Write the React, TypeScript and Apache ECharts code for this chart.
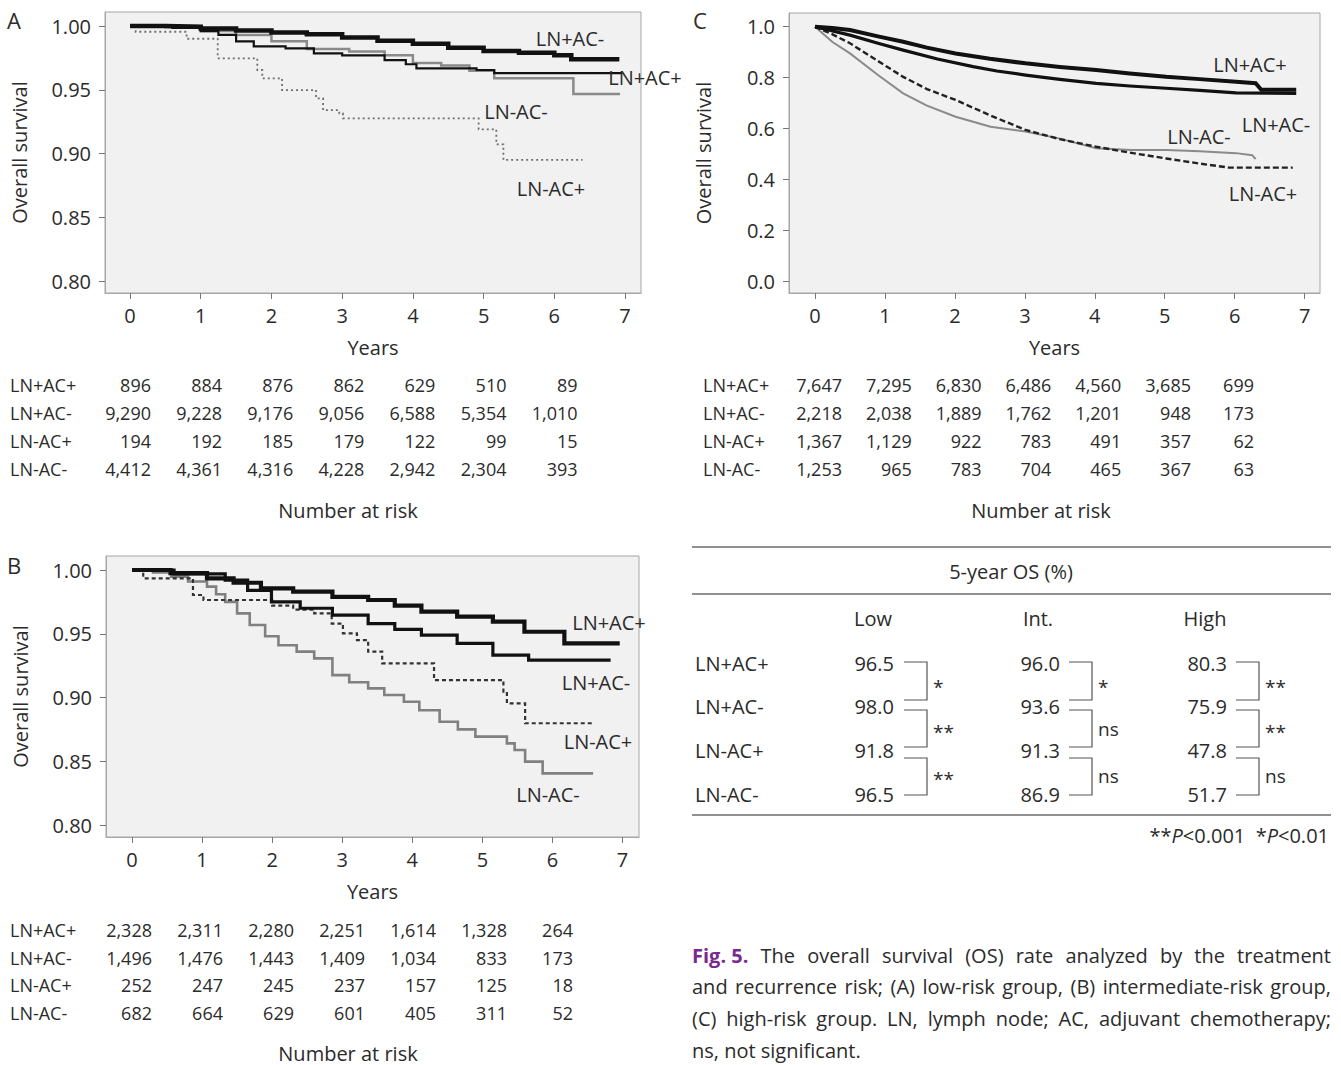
import React, { useEffect, useRef } from "react";
import * as echarts from "echarts";

const W = 1341;
const H = 1065;
const FONT = "'Open Sans', 'Noto Sans', sans-serif";
const TXT = "#2b2b2b";

// ---------- data ----------
const X_TICKS = [0, 1, 2, 3, 4, 5, 6, 7];
const Y_TICKS_AB = [0.8, 0.85, 0.9, 0.95, 1.0];
const Y_TICKS_C = [0, 0.2, 0.4, 0.6, 0.8, 1.0];
const GROUPS = ["LN+AC+", "LN+AC-", "LN-AC+", "LN-AC-"];

// Panel A (low risk) — [years, survival]
const A_LNpACp: [number, number][] = [[0, 1], [0.6, 0.9985], [1.0, 0.996], [1.25, 0.993], [1.5, 0.988], [1.75, 0.984], [2.2, 0.9825], [2.6, 0.9786], [3.0, 0.977], [3.6, 0.9733], [3.9, 0.97], [4.05, 0.9668], [4.9, 0.9655], [5.15, 0.963], [6.95, 0.963]];
const A_LNpACm: [number, number][] = [[0, 1], [0.5, 0.9995], [1, 0.998], [1.5, 0.9965], [2, 0.995], [2.5, 0.9935], [3, 0.991], [3.5, 0.9885], [4, 0.986], [4.5, 0.983], [5, 0.9805], [5.5, 0.979], [6, 0.977], [6.24, 0.974], [6.92, 0.974]];
const A_LNmACp: [number, number][] = [[0, 1], [0.08, 0.9955], [0.8, 0.99], [1.24, 0.9747], [1.8, 0.9655], [1.87, 0.959], [2.15, 0.9498], [2.63, 0.9433], [2.73, 0.934], [2.96, 0.9315], [3.01, 0.9276], [4.93, 0.919], [5.18, 0.9072], [5.28, 0.895], [6.4, 0.895]];
const A_LNmACm: [number, number][] = [[0, 1], [0.5, 0.999], [1, 0.996], [1.5, 0.993], [2, 0.988], [2.5, 0.982], [3.1, 0.98], [3.6, 0.977], [4.0, 0.971], [4.4, 0.969], [4.8, 0.965], [5.15, 0.959], [6.27, 0.9467], [6.93, 0.9467]];

// Panel B (intermediate risk)
const B_LNpACp: [number, number][] = [[0, 1], [0.55, 0.9975], [1.07, 0.9935], [1.45, 0.99], [1.84, 0.9856], [2.3, 0.983], [2.86, 0.979], [3.37, 0.9765], [3.75, 0.972], [4.13, 0.9673], [4.64, 0.9634], [5.15, 0.9595], [5.6, 0.9516], [6.17, 0.9425], [6.96, 0.9425]];
const B_LNpACm: [number, number][] = [[0, 1], [0.6, 0.997], [1.33, 0.992], [1.65, 0.984], [1.99, 0.975], [2.4, 0.97], [2.86, 0.9647], [3.37, 0.958], [3.75, 0.9535], [4.13, 0.949], [4.64, 0.9425], [5.15, 0.9333], [5.66, 0.9294], [6.83, 0.9294]];
const B_LNmACp: [number, number][] = [[0, 1], [0.16, 0.9935], [0.87, 0.9804], [1.02, 0.9765], [2.0, 0.972], [2.3, 0.969], [2.6, 0.966], [2.85, 0.958], [3.01, 0.9503], [3.21, 0.945], [3.37, 0.936], [3.57, 0.9268], [4.31, 0.9137], [5.3, 0.9046], [5.35, 0.8954], [5.61, 0.8798], [6.6, 0.8798]];
const B_LNmACm: [number, number][] = [[0, 1], [0.3, 0.998], [0.56, 0.9948], [0.8, 0.991], [1.07, 0.987], [1.2, 0.981], [1.33, 0.975], [1.5, 0.966], [1.68, 0.9569], [1.9, 0.948], [2.09, 0.941], [2.35, 0.936], [2.6, 0.9307], [2.86, 0.9176], [3.1, 0.912], [3.37, 0.9072], [3.6, 0.902], [3.88, 0.8967], [4.1, 0.89], [4.39, 0.881], [4.65, 0.875], [4.9, 0.8693], [5.35, 0.864], [5.46, 0.8588], [5.61, 0.8497], [5.86, 0.8405], [6.58, 0.8405]];

// Panel C (high risk)
const C_LNpACp: [number, number][] = [[0, 1], [0.25, 0.995], [0.5, 0.987], [0.9, 0.962], [1.26, 0.941], [1.6, 0.918], [2.01, 0.895], [2.5, 0.874], [3.01, 0.856], [3.5, 0.842], [4.02, 0.83], [4.5, 0.816], [5.02, 0.803], [5.5, 0.794], [6.02, 0.784], [6.3, 0.778], [6.38, 0.752], [6.88, 0.752]];
const C_LNpACm: [number, number][] = [[0, 1], [0.5, 0.967], [0.9, 0.935], [1.26, 0.908], [1.75, 0.873], [2.26, 0.843], [2.6, 0.826], [3.01, 0.81], [3.5, 0.793], [4.02, 0.777], [4.5, 0.767], [5.02, 0.758], [5.5, 0.75], [6.02, 0.74], [6.88, 0.738]];
const C_LNmACp: [number, number][] = [[0, 1], [0.25, 0.97], [0.5, 0.935], [0.9, 0.865], [1.26, 0.803], [1.6, 0.755], [2.01, 0.712], [2.5, 0.652], [3.01, 0.594], [3.5, 0.558], [4.02, 0.528], [4.5, 0.505], [5.02, 0.482], [5.5, 0.462], [5.92, 0.446], [6.83, 0.446]];
const C_LNmACm: [number, number][] = [[0, 1], [0.25, 0.94], [0.5, 0.895], [0.9, 0.81], [1.26, 0.738], [1.6, 0.69], [2.01, 0.646], [2.51, 0.607], [3.01, 0.588], [3.5, 0.56], [4.02, 0.522], [4.52, 0.515], [5.02, 0.515], [5.5, 0.51], [6.02, 0.503], [6.25, 0.495], [6.3, 0.48]];

// Number at risk
const A_RISK = [
  [896, 884, 876, 862, 629, 510, 89],
  [9290, 9228, 9176, 9056, 6588, 5354, 1010],
  [194, 192, 185, 179, 122, 99, 15],
  [4412, 4361, 4316, 4228, 2942, 2304, 393],
];
const B_RISK = [
  [2328, 2311, 2280, 2251, 1614, 1328, 264],
  [1496, 1476, 1443, 1409, 1034, 833, 173],
  [252, 247, 245, 237, 157, 125, 18],
  [682, 664, 629, 601, 405, 311, 52],
];
const C_RISK = [
  [7647, 7295, 6830, 6486, 4560, 3685, 699],
  [2218, 2038, 1889, 1762, 1201, 948, 173],
  [1367, 1129, 922, 783, 491, 357, 62],
  [1253, 965, 783, 704, 465, 367, 63],
];

// 5-year OS table
const OS_LOW = [96.5, 98.0, 91.8, 96.5];
const OS_INT = [96.0, 93.6, 91.3, 86.9];
const OS_HIGH = [80.3, 75.9, 47.8, 51.7];
const SIG_LOW = ["*", "**", "**"];
const SIG_INT = ["*", "ns", "ns"];
const SIG_HIGH = ["**", "**", "ns"];
const OS_HEADERS = ["Low", "Int.", "High"];

const CAPTION_LINES = [
  "The overall survival (OS) rate analyzed by the treatment",
  "and recurrence risk; (A) low-risk group, (B) intermediate-risk group,",
  "(C) high-risk group. LN, lymph node; AC, adjuvant chemotherapy;",
  "ns, not significant.",
];

// ---------- helpers ----------
function txt(x: number, y: number, text: string, o: any = {}) {
  return {
    type: "text",
    x,
    y,
    silent: true,
    z: 100,
    style: {
      text,
      fill: o.fill || TXT,
      fontSize: o.size || 20,
      fontFamily: FONT,
      fontWeight: o.weight || "normal",
      fontStyle: o.style || "normal",
      textAlign: o.align || "left",
      textVerticalAlign: "middle",
    },
  };
}
function hline(x1: number, x2: number, y: number, color = "#333", w = 1) {
  return { type: "line", silent: true, shape: { x1, y1: y, x2, y2: y }, style: { stroke: color, lineWidth: w } };
}

const measureCtx = (typeof document !== "undefined" ? document.createElement("canvas").getContext("2d") : null) as CanvasRenderingContext2D | null;
function measure(text: string, size: number, weight = "normal") {
  if (!measureCtx) return text.length * size * 0.5;
  measureCtx.font = `${weight} ${size}px ${FONT}`;
  return measureCtx.measureText(text).width;
}

function justifiedLine(words: { t: string; w?: string; c?: string }[], x1: number, x2: number, y: number, size: number, justify: boolean) {
  const widths = words.map((wd) => measure(wd.t, size, wd.w || "normal"));
  const total = widths.reduce((a, b) => a + b, 0);
  const space = measure(" ", size);
  const gap = justify && words.length > 1 ? (x2 - x1 - total) / (words.length - 1) : space;
  const out: any[] = [];
  let x = x1;
  words.forEach((wd, i) => {
    out.push(txt(x, y, wd.t, { size, weight: wd.w, fill: wd.c }));
    x += widths[i] + gap;
  });
  return out;
}

function grid(left: number, top: number, width: number, height: number) {
  return { left, top, width, height, show: true, backgroundColor: "#f1f1f1", borderColor: "#a6a6a6", borderWidth: 1, outerBoundsMode: "none", containLabel: false };
}

function xAxis(gridIndex: number, min: number, max: number) {
  return {
    type: "value",
    gridIndex,
    min,
    max,
    axisLine: { show: true, onZero: false, lineStyle: { color: "#a6a6a6" } },
    axisTick: { show: true, customValues: X_TICKS, length: 6, lineStyle: { color: "#777" } },
    axisLabel: { show: true, customValues: X_TICKS, margin: 12, fontSize: 20, color: TXT, fontFamily: FONT },
    splitLine: { show: false },
    name: "Years",
    nameLocation: "middle",
    nameGap: 44,
    nameTextStyle: { fontSize: 20, color: TXT, fontFamily: FONT },
  };
}
function yAxis(gridIndex: number, min: number, max: number, ticks: number[], digits: number) {
  return {
    type: "value",
    gridIndex,
    min,
    max,
    axisLine: { show: true, onZero: false, lineStyle: { color: "#a6a6a6" } },
    axisTick: { show: true, customValues: ticks, length: 6, lineStyle: { color: "#777" } },
    axisLabel: { show: true, customValues: ticks, margin: 14, fontSize: 20, color: TXT, fontFamily: FONT, formatter: (v: number) => v.toFixed(digits) },
    splitLine: { show: false },
    name: "Overall survival",
    nameLocation: "middle",
    nameGap: 76,
    nameRotate: 90,
    nameTextStyle: { fontSize: 20, color: TXT, fontFamily: FONT },
  };
}
function km(idx: number, data: [number, number][], color: string, width: number, type: any = "solid", step: any = "end") {
  return {
    type: "line",
    xAxisIndex: idx,
    yAxisIndex: idx,
    data,
    step,
    showSymbol: false,
    silent: true,
    lineStyle: { color, width, type, cap: "butt", join: "miter" },
  };
}

function riskTable(rows: number[][], labelX: number, firstRight: number, colStep: number, y0: number, rowStep: number, lastRight?: number) {
  const out: any[] = [];
  rows.forEach((row, r) => {
    const y = y0 + r * rowStep;
    out.push(txt(labelX, y, GROUPS[r], { size: 18 }));
    row.forEach((v, c) => {
      const x = c === row.length - 1 && lastRight ? lastRight : firstRight + c * colStep;
      out.push(txt(x, y, v.toLocaleString("en-US"), { size: 18, align: "right" }));
    });
  });
  return out;
}

function buildOption() {
  const g: any[] = [];
  // panel letters
  g.push(txt(7, 20, "A", { size: 22 }));
  g.push(txt(7, 565, "B", { size: 22 }));
  g.push(txt(693, 20, "C", { size: 22 }));
  // in-plot labels
  [["LN+AC-", 570, 38], ["LN+AC+", 645, 77], ["LN-AC-", 516, 111], ["LN-AC+", 551, 188]].forEach((l: any) => g.push(txt(l[1], l[2], l[0], { align: "center" })));
  [["LN+AC+", 609, 622], ["LN+AC-", 596, 682], ["LN-AC+", 598, 741], ["LN-AC-", 548, 794]].forEach((l: any) => g.push(txt(l[1], l[2], l[0], { align: "center" })));
  [["LN+AC+", 1250, 64], ["LN+AC-", 1276, 124], ["LN-AC-", 1199, 136], ["LN-AC+", 1263, 193]].forEach((l: any) => g.push(txt(l[1], l[2], l[0], { align: "center" })));

  // number at risk tables
  g.push(...riskTable(A_RISK, 10, 151, 71.1, 385, 28));
  g.push(txt(348, 510, "Number at risk", { align: "center" }));
  g.push(...riskTable(B_RISK, 10, 152, 71, 930, 27.7, 573));
  g.push(txt(348, 1053, "Number at risk", { align: "center" }));
  g.push(...riskTable(C_RISK, 703, 842, 69.8, 385, 28, 1254));
  g.push(txt(1041, 510, "Number at risk", { align: "center" }));

  // 5-year OS table
  g.push(hline(692, 1331, 547, "#222", 1.2));
  g.push(txt(1011, 571, "5-year OS (%)", { align: "center" }));
  g.push(hline(692, 1331, 594, "#222", 1.2));
  const headX = [873, 1038, 1205];
  OS_HEADERS.forEach((h, i) => g.push(txt(headX[i], 618, h, { align: "center" })));
  const rowY = [663, 706, 750, 794];
  GROUPS.forEach((gname, r) => g.push(txt(695, rowY[r], gname)));
  const valRight = [894, 1060, 1227];
  const stubX = [[904, 927], [1069, 1092], [1236, 1259]];
  const cols = [OS_LOW, OS_INT, OS_HIGH];
  const sigs = [SIG_LOW, SIG_INT, SIG_HIGH];
  const brackets = [[662, 700], [710, 747], [758, 795]];
  const sigY = [685, 730, 777];
  cols.forEach((col, c) => {
    col.forEach((v, r) => g.push(txt(valRight[c], rowY[r], v.toFixed(1), { align: "right" })));
    brackets.forEach((b, k) => {
      g.push({
        type: "polyline",
        silent: true,
        shape: { points: [[stubX[c][0], b[0]], [stubX[c][1], b[0]], [stubX[c][1], b[1]], [stubX[c][0], b[1]]] },
        style: { stroke: "#555", lineWidth: 1.2, fill: null },
      });
      const s = sigs[c][k];
      const isStar = s.indexOf("*") >= 0;
      g.push(txt(stubX[c][1] + 6, sigY[k] + (isStar ? 2 : -1), s, { size: 19 }));
    });
  });
  g.push(hline(692, 1331, 815, "#222", 1.2));
  g.push({
    type: "text",
    x: 1329,
    y: 835,
    silent: true,
    style: {
      text: "{n|**}{i|P}{n|<0.001  *}{i|P}{n|<0.01}",
      textAlign: "right",
      textVerticalAlign: "middle",
      fill: TXT,
      fontSize: 20,
      fontFamily: FONT,
      rich: {
        n: { fontSize: 20, fontFamily: FONT, fill: TXT },
        i: { fontSize: 20, fontFamily: FONT, fill: TXT, fontStyle: "italic" },
      },
    },
  });

  // caption (justified)
  const capSize = 20;
  const capY = [955, 986, 1018, 1050];
  const purple = "#7a2a8f";
  const first = [{ t: "Fig. 5.", w: "bold", c: purple }, ...CAPTION_LINES[0].split(" ").map((t) => ({ t }))];
  g.push(...justifiedLine(first, 692, 1331, capY[0], capSize, true));
  for (let i = 1; i < CAPTION_LINES.length; i++) {
    const words = CAPTION_LINES[i].split(" ").map((t) => ({ t }));
    g.push(...justifiedLine(words, 692, 1331, capY[i], capSize, i < CAPTION_LINES.length - 1));
  }

  return {
    animation: false,
    backgroundColor: "#ffffff",
    textStyle: { fontFamily: FONT },
    grid: [grid(105, 12, 536, 281), grid(106, 556, 533, 281), grid(789, 13, 531, 280)],
    xAxis: [xAxis(0, -0.354, 7.226), xAxis(1, -0.371, 7.235), xAxis(2, -0.372, 7.22)],
    yAxis: [yAxis(0, 0.7906, 1.011, Y_TICKS_AB, 2), yAxis(1, 0.7906, 1.011, Y_TICKS_AB, 2), yAxis(2, -0.047, 1.054, Y_TICKS_C, 1)],
    series: [
      km(0, A_LNmACm, "#8a8a8a", 2.5),
      km(0, A_LNmACp, "#6f6f6f", 1.8, [2, 3]),
      km(0, A_LNpACp, "#111", 2.2),
      km(0, A_LNpACm, "#111", 4.5),
      km(1, B_LNmACm, "#808080", 2.6),
      km(1, B_LNmACp, "#333", 2.2, [4, 3]),
      km(1, B_LNpACm, "#111", 3.2),
      km(1, B_LNpACp, "#111", 4.2),
      km(2, C_LNmACm, "#8a8a8a", 2, "solid", false),
      km(2, C_LNmACp, "#222", 2.4, [6, 3], false),
      km(2, C_LNpACm, "#111", 3.2, "solid", false),
      km(2, C_LNpACp, "#111", 4, "solid", false),
    ],
    graphic: { elements: g },
  };
}

export default function App() {
  const ref = useRef<HTMLDivElement>(null);
  useEffect(() => {
    if (!ref.current) return;
    const chart = echarts.init(ref.current, null, { renderer: "svg", width: W, height: H });
    chart.setOption(buildOption() as any);
    return () => chart.dispose();
  }, []);
  return <div ref={ref} style={{ position: "absolute", left: 0, top: 0, width: W, height: H, background: "#fff" }} />;
}
